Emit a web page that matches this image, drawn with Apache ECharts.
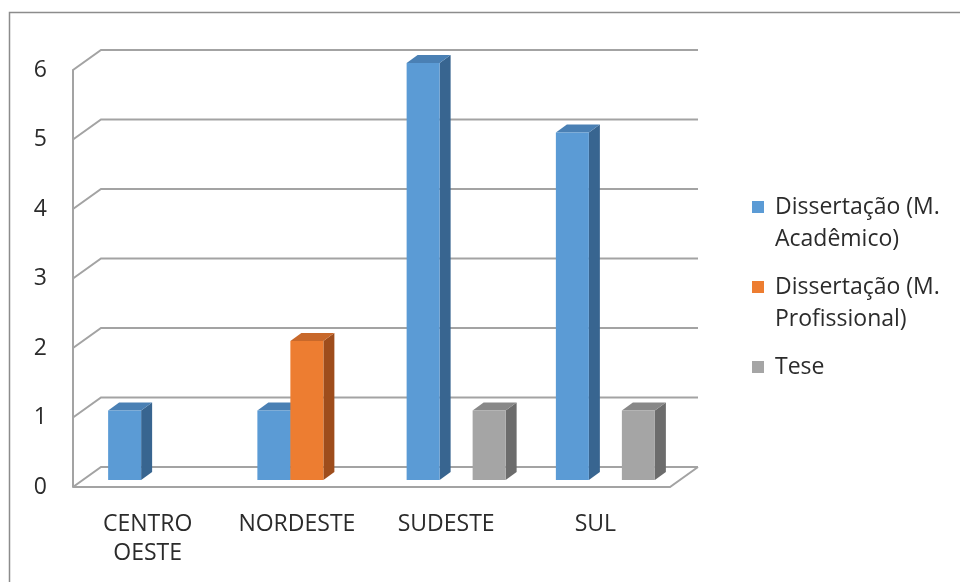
<!DOCTYPE html>
<html>
<head>
<meta charset="utf-8">
<script src="https://cdn.jsdelivr.net/npm/echarts@6/dist/echarts.min.js"></script>
<style>html,body{margin:0;padding:0;background:#fff}#c{width:960px;height:582px}</style>
</head>
<body>
<div id="c"></div>
<script>
const categories = ['CENTRO\nOESTE', 'NORDESTE', 'SUDESTE', 'SUL'];
const seriesNames = ['Dissertação (M. Acadêmico)', 'Dissertação (M. Profissional)', 'Tese'];
const academico = [1, 1, 6, 5];
const profissional = [0, 2, 0, 0];
const tese = [0, 0, 1, 1];
const yTicks = [0, 1, 2, 3, 4, 5, 6];

const FONT = '"Open Sans", "Noto Sans", sans-serif';
const TEXT = '#2b2b2b';
const WALL = '#a3a3a3';
const colors = [
  { front: '#5b9bd5', top: '#4a80b4', side: '#386590' },
  { front: '#ed7d31', top: '#c8682a', side: '#9e4d1c' },
  { front: '#a5a5a5', top: '#888888', side: '#6c6c6c' }
];
const BACK_DX = 28, BACK_DY = -20;   // depth of floor/walls
const MID_DX = 10, MID_DY = -7;      // bar plane offset
const BAR_DX = 11, BAR_DY = -8;      // bar depth
const BAR_W = 33;

function barSeries(idx, values) {
  return {
    name: seriesNames[idx],
    type: 'custom',
    itemStyle: { color: colors[idx].front },
    z: 5,
    data: values.map((v, i) => [i, v]),
    renderItem: function (params, api) {
      const ci = api.value(0), v = api.value(1);
      if (!v) return null;
      const base = api.coord([ci, 0]);
      const topP = api.coord([ci, v]);
      const cx = base[0] + MID_DX;
      const l = cx - BAR_W * 1.5 + idx * BAR_W;
      const r = l + BAR_W;
      const b = base[1] + MID_DY;
      const t = topP[1] + MID_DY;
      const c = colors[idx];
      return {
        type: 'group',
        children: [
          { type: 'polygon', shape: { points: [[r, t], [r + BAR_DX, t + BAR_DY], [r + BAR_DX, b + BAR_DY], [r, b]] }, style: { fill: c.side } },
          { type: 'polygon', shape: { points: [[l, t], [l + BAR_DX, t + BAR_DY], [r + BAR_DX, t + BAR_DY], [r, t]] }, style: { fill: c.top } },
          { type: 'rect', shape: { x: l, y: t, width: BAR_W, height: b - t }, style: { fill: c.front } }
        ]
      };
    }
  };
}

const wallSeries = {
  type: 'custom',
  silent: true,
  z: 1,
  data: yTicks.map(v => [0, v]),
  renderItem: function (params, api) {
    const v = api.value(1);
    const y = api.coord([0, v])[1];
    const x0 = params.coordSys.x;
    const x1 = x0 + params.coordSys.width;
    const children = [
      { type: 'polyline', shape: { points: [[x0, y], [x0 + BACK_DX, y + BACK_DY], [x1 + BACK_DX, y + BACK_DY]] }, style: { stroke: WALL, lineWidth: 2, fill: null } }
    ];
    if (v === 0) {
      children.push({ type: 'polyline', shape: { points: [[x0, y], [x1, y], [x1 + BACK_DX, y + BACK_DY]] }, style: { stroke: WALL, lineWidth: 2, fill: null } });
    }
    return { type: 'group', children: children };
  }
};

const chart = echarts.init(document.getElementById('c'), null, { renderer: 'canvas' });
chart.setOption({
  animation: false,
  backgroundColor: '#ffffff',
  graphic: [{
    type: 'rect', silent: true, z: -10,
    shape: { x: 9.5, y: 12.5, width: 1000, height: 1000 },
    style: { fill: null, stroke: '#8c8c8c', lineWidth: 1.5 }
  }],
  grid: { left: 73, top: 70, right: 290, bottom: 95 },
  legend: {
    orient: 'vertical',
    left: 752, top: 159,
    padding: 0,
    itemWidth: 12, itemHeight: 12, itemGap: -16,
    icon: 'rect',
    selectedMode: false,
    data: seriesNames,
    formatter: n => n === 'Tese' ? '\nTese\n ' : '\n' + n.replace('(M. ', '(M.\n'),
    textStyle: { fontFamily: FONT, fontSize: 23, color: TEXT, lineHeight: 32, padding: [0, 0, 0, 6] }
  },
  xAxis: {
    type: 'category',
    data: categories,
    axisLine: { show: false },
    axisTick: { show: false },
    splitLine: { show: false },
    axisLabel: { fontFamily: FONT, fontSize: 23, color: TEXT, lineHeight: 29, margin: 23, interval: 0 }
  },
  yAxis: {
    type: 'value',
    min: 0, max: 6, interval: 1,
    axisLine: { show: true, lineStyle: { color: WALL, width: 2 } },
    axisTick: { show: false },
    splitLine: { show: false },
    axisLabel: { fontFamily: FONT, fontSize: 23, color: TEXT, margin: 26 }
  },
  series: [wallSeries, barSeries(0, academico), barSeries(1, profissional), barSeries(2, tese)]
});
</script>
</body>
</html>
